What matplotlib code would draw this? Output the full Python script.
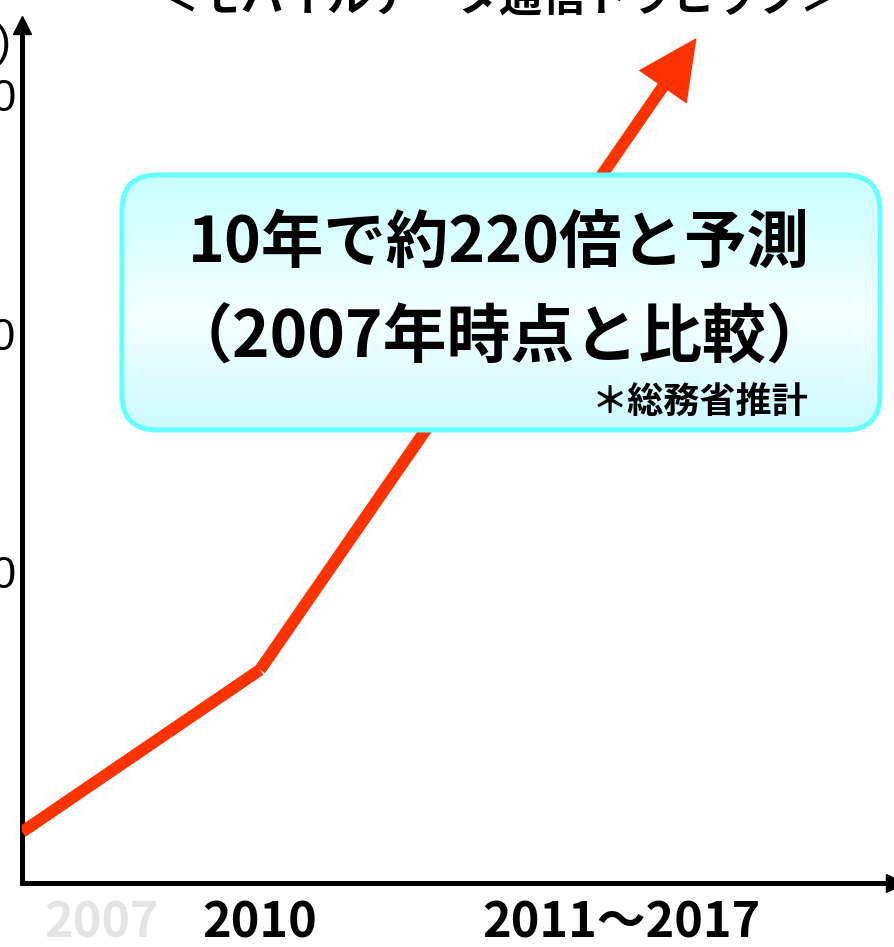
import numpy as np
import matplotlib
matplotlib.use('Agg')
import matplotlib.pyplot as plt
from matplotlib.patches import FancyBboxPatch, FancyArrowPatch, ArrowStyle

plt.rcParams['font.family'] = ['Noto Sans CJK JP', 'DejaVu Sans']

# data
years = [2007, 2010, 2015.5]
traffic = [-9, 59, 324]
ytick_vals = [100, 200, 300]
ytick_labels = ['100', '200', '300']
xlabel_pos = [2008, 2010, 2014.55]
xlabel_text = ['2007', '2010', '2011～2017']
title = '＜モバイルデータ通信トラヒック＞'
note_lines = ['10年で約220倍と予測', '（2007年時点と比較）']
source = '＊総務省推計'
unit = '(Gbps)'

RED = '#FF3300'
W, H = 895, 947

fig = plt.figure(figsize=(W / 100, H / 100), dpi=100)
ax = fig.add_axes([22 / W, 64 / H, (W - 22) / W, 858 / H])
ax.set_xlim(2007, 2018)
ax.set_ylim(-30.4, 329.4)

for s in ['top', 'right']:
    ax.spines[s].set_visible(False)
for s in ['left', 'bottom']:
    ax.spines[s].set_linewidth(3.6)
    ax.spines[s].set_color('black')
# axis arrows
ax.plot(0, 1, '^', color='black', ms=13, transform=ax.transAxes, clip_on=False)
ax.plot(1, 0, '>', color='black', ms=13, transform=ax.transAxes, clip_on=False)

ax.set_yticks(ytick_vals)
ax.set_yticklabels(ytick_labels, fontsize=32, family=['Liberation Sans', 'DejaVu Sans'])
ax.tick_params(axis='y', length=0, pad=4)
ax.set_xticks(xlabel_pos)
ax.set_xticklabels(xlabel_text, fontsize=35, fontweight='bold')
ax.tick_params(axis='x', length=0, pad=11)
ax.get_xticklabels()[0].set_color('#E4E4E4')
ax.text(-0.012, 0.977, unit, transform=ax.transAxes, ha='right', va='center',
        fontsize=32, family=['Liberation Sans', 'DejaVu Sans'], clip_on=False)

# red trend line with arrow head on the last segment
ax.plot(years[:2], traffic[:2], color=RED, lw=8.6, solid_capstyle='butt', zorder=3)
arr = FancyArrowPatch((years[1], traffic[1]), (years[2], traffic[2]),
                      arrowstyle=ArrowStyle('Simple', head_length=43, head_width=42, tail_width=8.6),
                      mutation_scale=1, color=RED, lw=0, shrinkA=0, shrinkB=0, zorder=3)
ax.add_patch(arr)

# overlay in pixel units for the callout box and title
ov = fig.add_axes([0, 0, 1, 1])
ov.axis('off')

ov.text(500, 11, title, ha='center', va='baseline', fontsize=31, fontweight='bold')

box = FancyBboxPatch((122, 175), 758, 255, boxstyle='round,pad=0,rounding_size=35',
                     facecolor='none', edgecolor='#66FFFF', lw=3.6, zorder=3)
ov.add_patch(box)
c_top = np.array([0xC8, 0xFF, 0xFF]) / 255
c_mid = np.array([0xF4, 0xFF, 0xFF]) / 255
c_bot = np.array([0xCC, 0xFA, 0xFF]) / 255
t = np.linspace(0, 1, 256)[:, None]
grad = np.where(t < 0.55, c_top + (c_mid - c_top) * (t / 0.55),
                c_mid + (c_bot - c_mid) * ((t - 0.55) / 0.45))
img = ov.imshow(grad[:, None, :], extent=(122, 880, 430, 175), aspect='auto',
                origin='upper', zorder=2)
img.set_clip_path(box)

ov.text(499, 262, note_lines[0], ha='center', va='baseline', fontsize=45, fontweight='bold', zorder=4)
ov.text(500, 358, note_lines[1], ha='center', va='baseline', fontsize=46, fontweight='bold', zorder=4)
ov.text(808, 414, source, ha='right', va='baseline', fontsize=26, fontweight='bold', zorder=4)

ov.set_xlim(0, W)
ov.set_ylim(H, 0)

fig.savefig('out.png', dpi=100)
